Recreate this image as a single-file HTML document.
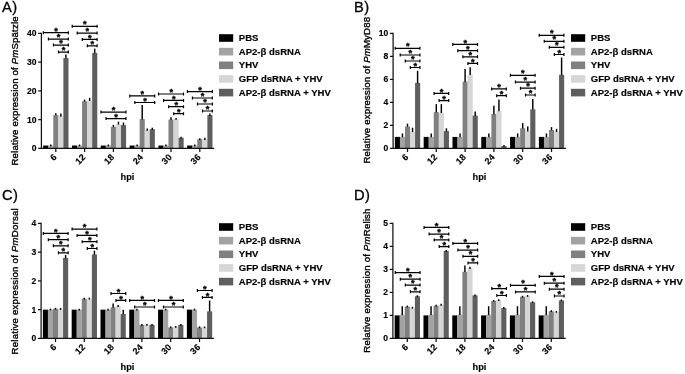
<!DOCTYPE html>
<html lang="en">
<head>
<meta charset="utf-8">
<title>Relative expression figure</title>
<style>
html,body{margin:0;padding:0;background:#fff;}
body{width:685px;height:374px;overflow:hidden;}
svg{display:block;font-family:"Liberation Sans",sans-serif;}
</style>
</head>
<body>
<svg width="685" height="374" viewBox="0 0 685 374">
<rect width="685" height="374" fill="#fff"/>
<g transform="translate(0,0)">
<text x="2.1" y="11.8" font-size="14.7" fill="#000" stroke="#000" stroke-width="0.3">A<tspan dx="0.4">)</tspan></text>
<text transform="translate(18.35,90.9) rotate(-90)" text-anchor="middle" font-size="9.65" letter-spacing="0.17" fill="#000" stroke="#000" stroke-width="0.35">Relative expression of <tspan font-style="italic">Pm</tspan>Spätzle</text>
<text x="127.5" y="179.8" text-anchor="middle" font-size="9.2" font-weight="bold" fill="#000" stroke="#000" stroke-width="0.15">hpi</text>
<g transform="translate(0,0)">
<rect x="43.17" y="145.53" width="5.1" height="2.88" fill="#000000"/>
<rect x="48.22" y="145.53" width="5.1" height="2.88" fill="#a3a3a3"/>
<rect x="53.27" y="115.05" width="5.1" height="33.35" fill="#808080"/>
<rect x="58.32" y="116.49" width="5.1" height="31.91" fill="#d6d6d6"/>
<rect x="63.38" y="58.13" width="5.1" height="90.27" fill="#5e5e5e"/>
<line x1="50.75" y1="146.28" x2="50.75" y2="144.52" stroke="#000" stroke-width="1.45"/>
<line x1="55.8" y1="115.35" x2="55.8" y2="113.33" stroke="#000" stroke-width="1.45"/>
<line x1="60.85" y1="116.79" x2="60.85" y2="113.61" stroke="#000" stroke-width="1.45"/>
<line x1="65.9" y1="58.43" x2="65.9" y2="54.39" stroke="#000" stroke-width="1.45"/>
<rect x="71.97" y="145.53" width="5.1" height="2.88" fill="#000000"/>
<rect x="77.02" y="145.53" width="5.1" height="2.88" fill="#a3a3a3"/>
<rect x="82.07" y="101.25" width="5.1" height="47.15" fill="#808080"/>
<rect x="87.12" y="100.68" width="5.1" height="47.72" fill="#d6d6d6"/>
<rect x="92.17" y="52.95" width="5.1" height="95.45" fill="#5e5e5e"/>
<line x1="79.55" y1="146.28" x2="79.55" y2="144.52" stroke="#000" stroke-width="1.45"/>
<line x1="84.6" y1="101.55" x2="84.6" y2="99.53" stroke="#000" stroke-width="1.45"/>
<line x1="89.65" y1="100.98" x2="89.65" y2="97.8" stroke="#000" stroke-width="1.45"/>
<line x1="94.7" y1="53.25" x2="94.7" y2="48.64" stroke="#000" stroke-width="1.45"/>
<rect x="100.78" y="145.53" width="5.1" height="2.88" fill="#000000"/>
<rect x="105.83" y="145.53" width="5.1" height="2.88" fill="#a3a3a3"/>
<rect x="110.88" y="126.84" width="5.1" height="21.56" fill="#808080"/>
<rect x="115.93" y="124.25" width="5.1" height="24.15" fill="#d6d6d6"/>
<rect x="120.98" y="125.11" width="5.1" height="23.29" fill="#5e5e5e"/>
<line x1="108.35" y1="146.28" x2="108.35" y2="144.52" stroke="#000" stroke-width="1.45"/>
<line x1="113.4" y1="127.14" x2="113.4" y2="124.83" stroke="#000" stroke-width="1.45"/>
<line x1="118.45" y1="124.55" x2="118.45" y2="121.66" stroke="#000" stroke-width="1.45"/>
<line x1="123.5" y1="125.41" x2="123.5" y2="122.53" stroke="#000" stroke-width="1.45"/>
<rect x="129.57" y="145.53" width="5.1" height="2.88" fill="#000000"/>
<rect x="134.62" y="145.53" width="5.1" height="2.88" fill="#a3a3a3"/>
<rect x="139.67" y="119.08" width="5.1" height="29.33" fill="#808080"/>
<rect x="144.72" y="130" width="5.1" height="18.4" fill="#d6d6d6"/>
<rect x="149.77" y="129.14" width="5.1" height="19.26" fill="#5e5e5e"/>
<line x1="137.15" y1="146.28" x2="137.15" y2="144.52" stroke="#000" stroke-width="1.45"/>
<line x1="142.2" y1="119.38" x2="142.2" y2="104.99" stroke="#000" stroke-width="1.45"/>
<line x1="147.25" y1="130.75" x2="147.25" y2="128.56" stroke="#000" stroke-width="1.45"/>
<line x1="152.3" y1="129.89" x2="152.3" y2="127.7" stroke="#000" stroke-width="1.45"/>
<rect x="158.38" y="145.53" width="5.1" height="2.88" fill="#000000"/>
<rect x="163.43" y="145.53" width="5.1" height="2.88" fill="#a3a3a3"/>
<rect x="168.47" y="119.65" width="5.1" height="28.75" fill="#808080"/>
<rect x="173.53" y="119.08" width="5.1" height="29.33" fill="#d6d6d6"/>
<rect x="178.57" y="137.76" width="5.1" height="10.64" fill="#5e5e5e"/>
<line x1="165.95" y1="146.28" x2="165.95" y2="144.52" stroke="#000" stroke-width="1.45"/>
<line x1="171" y1="119.95" x2="171" y2="117.35" stroke="#000" stroke-width="1.45"/>
<line x1="176.05" y1="119.83" x2="176.05" y2="117.92" stroke="#000" stroke-width="1.45"/>
<line x1="181.1" y1="138.51" x2="181.1" y2="136.76" stroke="#000" stroke-width="1.45"/>
<rect x="187.18" y="145.53" width="5.1" height="2.88" fill="#000000"/>
<rect x="192.23" y="145.53" width="5.1" height="2.88" fill="#a3a3a3"/>
<rect x="197.28" y="139.2" width="5.1" height="9.2" fill="#808080"/>
<rect x="202.33" y="139.2" width="5.1" height="9.2" fill="#d6d6d6"/>
<rect x="207.38" y="115.05" width="5.1" height="33.35" fill="#5e5e5e"/>
<line x1="194.75" y1="146.28" x2="194.75" y2="144.52" stroke="#000" stroke-width="1.45"/>
<line x1="199.8" y1="139.95" x2="199.8" y2="138.2" stroke="#000" stroke-width="1.45"/>
<line x1="204.85" y1="139.95" x2="204.85" y2="137.76" stroke="#000" stroke-width="1.45"/>
<line x1="209.9" y1="115.8" x2="209.9" y2="113.61" stroke="#000" stroke-width="1.45"/>
<path d="M43.38 31.2 V34.2 M43.38 32.7 H68.33 M68.33 31.2 V34.2" stroke="#000" stroke-width="1.2" fill="none"/>
<text x="56" y="33.8" text-anchor="middle" font-size="9.2" font-weight="bold" fill="#000" stroke="#000" stroke-width="0.35" stroke-linejoin="round">*</text>
<path d="M48.42 37.6 V40.6 M48.42 39.1 H68.33 M68.33 37.6 V40.6" stroke="#000" stroke-width="1.2" fill="none"/>
<text x="58.52" y="40.2" text-anchor="middle" font-size="9.2" font-weight="bold" fill="#000" stroke="#000" stroke-width="0.35" stroke-linejoin="round">*</text>
<path d="M53.48 43.6 V46.6 M53.48 45.1 H68.33 M68.33 43.6 V46.6" stroke="#000" stroke-width="1.2" fill="none"/>
<text x="61.05" y="46.2" text-anchor="middle" font-size="9.2" font-weight="bold" fill="#000" stroke="#000" stroke-width="0.35" stroke-linejoin="round">*</text>
<path d="M58.52 50.6 V53.6 M58.52 52.1 H68.33 M68.33 50.6 V53.6" stroke="#000" stroke-width="1.2" fill="none"/>
<text x="63.57" y="53.2" text-anchor="middle" font-size="9.2" font-weight="bold" fill="#000" stroke="#000" stroke-width="0.35" stroke-linejoin="round">*</text>
<path d="M72.17 24.8 V27.8 M72.17 26.3 H97.12 M97.12 24.8 V27.8" stroke="#000" stroke-width="1.2" fill="none"/>
<text x="84.8" y="27.4" text-anchor="middle" font-size="9.2" font-weight="bold" fill="#000" stroke="#000" stroke-width="0.35" stroke-linejoin="round">*</text>
<path d="M77.22 31.6 V34.6 M77.22 33.1 H97.12 M97.12 31.6 V34.6" stroke="#000" stroke-width="1.2" fill="none"/>
<text x="87.33" y="34.2" text-anchor="middle" font-size="9.2" font-weight="bold" fill="#000" stroke="#000" stroke-width="0.35" stroke-linejoin="round">*</text>
<path d="M82.27 37.9 V40.9 M82.27 39.4 H97.12 M97.12 37.9 V40.9" stroke="#000" stroke-width="1.2" fill="none"/>
<text x="89.85" y="40.5" text-anchor="middle" font-size="9.2" font-weight="bold" fill="#000" stroke="#000" stroke-width="0.35" stroke-linejoin="round">*</text>
<path d="M87.33 44.3 V47.3 M87.33 45.8 H97.12 M97.12 44.3 V47.3" stroke="#000" stroke-width="1.2" fill="none"/>
<text x="92.38" y="46.9" text-anchor="middle" font-size="9.2" font-weight="bold" fill="#000" stroke="#000" stroke-width="0.35" stroke-linejoin="round">*</text>
<path d="M100.98 110.6 V113.6 M100.98 112.1 H125.93 M125.93 110.6 V113.6" stroke="#000" stroke-width="1.2" fill="none"/>
<text x="113.6" y="113.2" text-anchor="middle" font-size="9.2" font-weight="bold" fill="#000" stroke="#000" stroke-width="0.35" stroke-linejoin="round">*</text>
<path d="M106.03 117.1 V120.1 M106.03 118.6 H125.93 M125.93 117.1 V120.1" stroke="#000" stroke-width="1.2" fill="none"/>
<text x="116.13" y="119.7" text-anchor="middle" font-size="9.2" font-weight="bold" fill="#000" stroke="#000" stroke-width="0.35" stroke-linejoin="round">*</text>
<path d="M129.77 94.4 V97.4 M129.77 95.9 H154.72 M154.72 94.4 V97.4" stroke="#000" stroke-width="1.2" fill="none"/>
<text x="142.4" y="97" text-anchor="middle" font-size="9.2" font-weight="bold" fill="#000" stroke="#000" stroke-width="0.35" stroke-linejoin="round">*</text>
<path d="M134.82 101 V104 M134.82 102.5 H154.72 M154.72 101 V104" stroke="#000" stroke-width="1.2" fill="none"/>
<text x="144.92" y="103.6" text-anchor="middle" font-size="9.2" font-weight="bold" fill="#000" stroke="#000" stroke-width="0.35" stroke-linejoin="round">*</text>
<path d="M158.57 92.5 V95.5 M158.57 94 H183.52 M183.52 92.5 V95.5" stroke="#000" stroke-width="1.2" fill="none"/>
<text x="171.2" y="95.1" text-anchor="middle" font-size="9.2" font-weight="bold" fill="#000" stroke="#000" stroke-width="0.35" stroke-linejoin="round">*</text>
<path d="M163.62 98.9 V101.9 M163.62 100.4 H183.52 M183.52 98.9 V101.9" stroke="#000" stroke-width="1.2" fill="none"/>
<text x="173.72" y="101.5" text-anchor="middle" font-size="9.2" font-weight="bold" fill="#000" stroke="#000" stroke-width="0.35" stroke-linejoin="round">*</text>
<path d="M168.67 105.2 V108.2 M168.67 106.7 H183.52 M183.52 105.2 V108.2" stroke="#000" stroke-width="1.2" fill="none"/>
<text x="176.25" y="107.8" text-anchor="middle" font-size="9.2" font-weight="bold" fill="#000" stroke="#000" stroke-width="0.35" stroke-linejoin="round">*</text>
<path d="M173.72 112.2 V115.2 M173.72 113.7 H183.52 M183.52 112.2 V115.2" stroke="#000" stroke-width="1.2" fill="none"/>
<text x="178.78" y="114.8" text-anchor="middle" font-size="9.2" font-weight="bold" fill="#000" stroke="#000" stroke-width="0.35" stroke-linejoin="round">*</text>
<path d="M187.38 90.1 V93.1 M187.38 91.6 H212.32 M212.32 90.1 V93.1" stroke="#000" stroke-width="1.2" fill="none"/>
<text x="200" y="92.7" text-anchor="middle" font-size="9.2" font-weight="bold" fill="#000" stroke="#000" stroke-width="0.35" stroke-linejoin="round">*</text>
<path d="M192.43 96.5 V99.5 M192.43 98 H212.32 M212.32 96.5 V99.5" stroke="#000" stroke-width="1.2" fill="none"/>
<text x="202.53" y="99.1" text-anchor="middle" font-size="9.2" font-weight="bold" fill="#000" stroke="#000" stroke-width="0.35" stroke-linejoin="round">*</text>
<path d="M197.47 102.5 V105.5 M197.47 104 H212.32 M212.32 102.5 V105.5" stroke="#000" stroke-width="1.2" fill="none"/>
<text x="205.05" y="105.1" text-anchor="middle" font-size="9.2" font-weight="bold" fill="#000" stroke="#000" stroke-width="0.35" stroke-linejoin="round">*</text>
<path d="M202.53 109.5 V112.5 M202.53 111 H212.32 M212.32 109.5 V112.5" stroke="#000" stroke-width="1.2" fill="none"/>
<text x="207.58" y="112.1" text-anchor="middle" font-size="9.2" font-weight="bold" fill="#000" stroke="#000" stroke-width="0.35" stroke-linejoin="round">*</text>
<path d="M41.4 33.4 V148.4 H213.6" stroke="#111" stroke-width="1.25" fill="none" stroke-linecap="square"/>
<line x1="38.2" y1="148.4" x2="41.4" y2="148.4" stroke="#111" stroke-width="1.25"/>
<text x="36.6" y="151.4" text-anchor="end" font-size="8.55" font-weight="bold" fill="#000" stroke="#000" stroke-width="0.15">0</text>
<line x1="38.2" y1="119.65" x2="41.4" y2="119.65" stroke="#111" stroke-width="1.25"/>
<text x="36.6" y="122.65" text-anchor="end" font-size="8.55" font-weight="bold" fill="#000" stroke="#000" stroke-width="0.15">10</text>
<line x1="38.2" y1="90.9" x2="41.4" y2="90.9" stroke="#111" stroke-width="1.25"/>
<text x="36.6" y="93.9" text-anchor="end" font-size="8.55" font-weight="bold" fill="#000" stroke="#000" stroke-width="0.15">20</text>
<line x1="38.2" y1="62.15" x2="41.4" y2="62.15" stroke="#111" stroke-width="1.25"/>
<text x="36.6" y="65.15" text-anchor="end" font-size="8.55" font-weight="bold" fill="#000" stroke="#000" stroke-width="0.15">30</text>
<line x1="38.2" y1="33.4" x2="41.4" y2="33.4" stroke="#111" stroke-width="1.25"/>
<text x="36.6" y="36.4" text-anchor="end" font-size="8.55" font-weight="bold" fill="#000" stroke="#000" stroke-width="0.15">40</text>
<line x1="55.8" y1="148.4" x2="55.8" y2="152" stroke="#111" stroke-width="1.25"/>
<text transform="translate(57.2,157.85) rotate(-45)" text-anchor="end" font-size="8.95" font-weight="bold" fill="#000" stroke="#000" stroke-width="0.15">6</text>
<line x1="84.6" y1="148.4" x2="84.6" y2="152" stroke="#111" stroke-width="1.25"/>
<text transform="translate(86,157.85) rotate(-45)" text-anchor="end" font-size="8.95" font-weight="bold" fill="#000" stroke="#000" stroke-width="0.15">12</text>
<line x1="113.4" y1="148.4" x2="113.4" y2="152" stroke="#111" stroke-width="1.25"/>
<text transform="translate(114.8,157.85) rotate(-45)" text-anchor="end" font-size="8.95" font-weight="bold" fill="#000" stroke="#000" stroke-width="0.15">18</text>
<line x1="142.2" y1="148.4" x2="142.2" y2="152" stroke="#111" stroke-width="1.25"/>
<text transform="translate(143.6,157.85) rotate(-45)" text-anchor="end" font-size="8.95" font-weight="bold" fill="#000" stroke="#000" stroke-width="0.15">24</text>
<line x1="171" y1="148.4" x2="171" y2="152" stroke="#111" stroke-width="1.25"/>
<text transform="translate(172.4,157.85) rotate(-45)" text-anchor="end" font-size="8.95" font-weight="bold" fill="#000" stroke="#000" stroke-width="0.15">30</text>
<line x1="199.8" y1="148.4" x2="199.8" y2="152" stroke="#111" stroke-width="1.25"/>
<text transform="translate(201.2,157.85) rotate(-45)" text-anchor="end" font-size="8.95" font-weight="bold" fill="#000" stroke="#000" stroke-width="0.15">36</text>
</g>
<rect x="219" y="34.2" width="14.2" height="7.6" fill="#000000"/>
<text x="238.8" y="41.1" font-size="9.55" font-weight="bold" fill="#000" stroke="#000" stroke-width="0.15">PBS</text>
<rect x="219" y="47.85" width="14.2" height="7.6" fill="#a3a3a3"/>
<text x="238.8" y="54.75" font-size="9.55" font-weight="bold" fill="#000" stroke="#000" stroke-width="0.15">AP2-β dsRNA</text>
<rect x="219" y="61.5" width="14.2" height="7.6" fill="#808080"/>
<text x="238.8" y="68.4" font-size="9.55" font-weight="bold" fill="#000" stroke="#000" stroke-width="0.15">YHV</text>
<rect x="219" y="75.15" width="14.2" height="7.6" fill="#d6d6d6"/>
<text x="238.8" y="82.05" font-size="9.55" font-weight="bold" fill="#000" stroke="#000" stroke-width="0.15">GFP dsRNA + YHV</text>
<rect x="219" y="88.8" width="14.2" height="7.6" fill="#5e5e5e"/>
<text x="238.8" y="95.7" font-size="9.55" font-weight="bold" fill="#000" stroke="#000" stroke-width="0.15">AP2-β dsRNA + YHV</text>
</g>
<g transform="translate(352,0)">
<text x="2.1" y="11.8" font-size="14.7" fill="#000" stroke="#000" stroke-width="0.3">B<tspan dx="0.4">)</tspan></text>
<text transform="translate(18.35,90.2) rotate(-90)" text-anchor="middle" font-size="9.65" letter-spacing="0.15" fill="#000" stroke="#000" stroke-width="0.35">Relative expression of <tspan font-style="italic">Pm</tspan>MyD88</text>
<text x="127.5" y="179.8" text-anchor="middle" font-size="9.2" font-weight="bold" fill="#000" stroke="#000" stroke-width="0.15">hpi</text>
<g transform="translate(-0.3,0)">
<rect x="43.17" y="136.9" width="5.1" height="11.5" fill="#000000"/>
<rect x="48.22" y="136.9" width="5.1" height="11.5" fill="#a3a3a3"/>
<rect x="53.27" y="126.55" width="5.1" height="21.85" fill="#808080"/>
<rect x="58.32" y="131.72" width="5.1" height="16.68" fill="#d6d6d6"/>
<rect x="63.38" y="82.85" width="5.1" height="65.55" fill="#5e5e5e"/>
<line x1="50.75" y1="137.2" x2="50.75" y2="133.45" stroke="#000" stroke-width="1.45"/>
<line x1="55.8" y1="126.85" x2="55.8" y2="123.68" stroke="#000" stroke-width="1.45"/>
<line x1="60.85" y1="132.03" x2="60.85" y2="127.7" stroke="#000" stroke-width="1.45"/>
<line x1="65.9" y1="83.15" x2="65.9" y2="70.78" stroke="#000" stroke-width="1.45"/>
<rect x="71.97" y="136.9" width="5.1" height="11.5" fill="#000000"/>
<rect x="77.02" y="136.9" width="5.1" height="11.5" fill="#a3a3a3"/>
<rect x="82.07" y="112.18" width="5.1" height="36.22" fill="#808080"/>
<rect x="87.12" y="112.75" width="5.1" height="35.65" fill="#d6d6d6"/>
<rect x="92.17" y="131.15" width="5.1" height="17.25" fill="#5e5e5e"/>
<line x1="79.55" y1="137.2" x2="79.55" y2="133.45" stroke="#000" stroke-width="1.45"/>
<line x1="84.6" y1="112.48" x2="84.6" y2="104.13" stroke="#000" stroke-width="1.45"/>
<line x1="89.65" y1="113.05" x2="89.65" y2="104.12" stroke="#000" stroke-width="1.45"/>
<line x1="94.7" y1="131.45" x2="94.7" y2="128.28" stroke="#000" stroke-width="1.45"/>
<rect x="100.78" y="136.9" width="5.1" height="11.5" fill="#000000"/>
<rect x="105.83" y="136.9" width="5.1" height="11.5" fill="#a3a3a3"/>
<rect x="110.88" y="81.7" width="5.1" height="66.7" fill="#808080"/>
<rect x="115.93" y="74.8" width="5.1" height="73.6" fill="#d6d6d6"/>
<rect x="120.98" y="115.62" width="5.1" height="32.78" fill="#5e5e5e"/>
<line x1="108.35" y1="137.2" x2="108.35" y2="133.45" stroke="#000" stroke-width="1.45"/>
<line x1="113.4" y1="82" x2="113.4" y2="69.05" stroke="#000" stroke-width="1.45"/>
<line x1="118.45" y1="75.1" x2="118.45" y2="67.33" stroke="#000" stroke-width="1.45"/>
<line x1="123.5" y1="115.92" x2="123.5" y2="111.6" stroke="#000" stroke-width="1.45"/>
<rect x="129.57" y="136.9" width="5.1" height="11.5" fill="#000000"/>
<rect x="134.62" y="136.9" width="5.1" height="11.5" fill="#a3a3a3"/>
<rect x="139.67" y="113.9" width="5.1" height="34.5" fill="#808080"/>
<rect x="144.72" y="111.03" width="5.1" height="37.38" fill="#d6d6d6"/>
<rect x="149.77" y="146.1" width="5.1" height="2.3" fill="#5e5e5e"/>
<line x1="137.15" y1="137.2" x2="137.15" y2="133.45" stroke="#000" stroke-width="1.45"/>
<line x1="142.2" y1="114.2" x2="142.2" y2="105.85" stroke="#000" stroke-width="1.45"/>
<line x1="147.25" y1="111.33" x2="147.25" y2="99.53" stroke="#000" stroke-width="1.45"/>
<line x1="152.3" y1="146.85" x2="152.3" y2="144.95" stroke="#000" stroke-width="1.45"/>
<rect x="158.38" y="136.9" width="5.1" height="11.5" fill="#000000"/>
<rect x="163.43" y="136.9" width="5.1" height="11.5" fill="#a3a3a3"/>
<rect x="168.47" y="128.28" width="5.1" height="20.12" fill="#808080"/>
<rect x="173.53" y="131.15" width="5.1" height="17.25" fill="#d6d6d6"/>
<rect x="178.57" y="109.3" width="5.1" height="39.1" fill="#5e5e5e"/>
<line x1="165.95" y1="137.2" x2="165.95" y2="133.45" stroke="#000" stroke-width="1.45"/>
<line x1="171" y1="128.58" x2="171" y2="123.1" stroke="#000" stroke-width="1.45"/>
<line x1="176.05" y1="131.45" x2="176.05" y2="126.55" stroke="#000" stroke-width="1.45"/>
<line x1="181.1" y1="109.6" x2="181.1" y2="98.95" stroke="#000" stroke-width="1.45"/>
<rect x="187.18" y="136.9" width="5.1" height="11.5" fill="#000000"/>
<rect x="192.23" y="136.9" width="5.1" height="11.5" fill="#a3a3a3"/>
<rect x="197.28" y="130" width="5.1" height="18.4" fill="#808080"/>
<rect x="202.33" y="131.72" width="5.1" height="16.68" fill="#d6d6d6"/>
<rect x="207.38" y="74.8" width="5.1" height="73.6" fill="#5e5e5e"/>
<line x1="194.75" y1="137.2" x2="194.75" y2="133.45" stroke="#000" stroke-width="1.45"/>
<line x1="199.8" y1="130.3" x2="199.8" y2="127.12" stroke="#000" stroke-width="1.45"/>
<line x1="204.85" y1="132.03" x2="204.85" y2="128.85" stroke="#000" stroke-width="1.45"/>
<line x1="209.9" y1="75.1" x2="209.9" y2="57.55" stroke="#000" stroke-width="1.45"/>
<path d="M43.47 46.8 V49.8 M43.47 48.3 H68.22 M68.22 46.8 V49.8" stroke="#000" stroke-width="1.2" fill="none"/>
<text x="56" y="49.4" text-anchor="middle" font-size="9.2" font-weight="bold" fill="#000" stroke="#000" stroke-width="0.35" stroke-linejoin="round">*</text>
<path d="M48.52 53.5 V56.5 M48.52 55 H68.22 M68.22 53.5 V56.5" stroke="#000" stroke-width="1.2" fill="none"/>
<text x="58.52" y="56.1" text-anchor="middle" font-size="9.2" font-weight="bold" fill="#000" stroke="#000" stroke-width="0.35" stroke-linejoin="round">*</text>
<path d="M53.57 59.5 V62.5 M53.57 61 H68.22 M68.22 59.5 V62.5" stroke="#000" stroke-width="1.2" fill="none"/>
<text x="61.05" y="62.1" text-anchor="middle" font-size="9.2" font-weight="bold" fill="#000" stroke="#000" stroke-width="0.35" stroke-linejoin="round">*</text>
<path d="M58.62 66 V69 M58.62 67.5 H68.22 M68.22 66 V69" stroke="#000" stroke-width="1.2" fill="none"/>
<text x="63.57" y="68.6" text-anchor="middle" font-size="9.2" font-weight="bold" fill="#000" stroke="#000" stroke-width="0.35" stroke-linejoin="round">*</text>
<path d="M82.37 91.9 V94.9 M82.37 93.4 H97.02 M97.02 91.9 V94.9" stroke="#000" stroke-width="1.2" fill="none"/>
<text x="89.85" y="94.5" text-anchor="middle" font-size="9.2" font-weight="bold" fill="#000" stroke="#000" stroke-width="0.35" stroke-linejoin="round">*</text>
<path d="M87.42 99.1 V102.1 M87.42 100.6 H97.02 M97.02 99.1 V102.1" stroke="#000" stroke-width="1.2" fill="none"/>
<text x="92.38" y="101.7" text-anchor="middle" font-size="9.2" font-weight="bold" fill="#000" stroke="#000" stroke-width="0.35" stroke-linejoin="round">*</text>
<path d="M101.08 42.9 V45.9 M101.08 44.4 H125.83 M125.83 42.9 V45.9" stroke="#000" stroke-width="1.2" fill="none"/>
<text x="113.6" y="45.5" text-anchor="middle" font-size="9.2" font-weight="bold" fill="#000" stroke="#000" stroke-width="0.35" stroke-linejoin="round">*</text>
<path d="M106.12 49.2 V52.2 M106.12 50.7 H125.83 M125.83 49.2 V52.2" stroke="#000" stroke-width="1.2" fill="none"/>
<text x="116.12" y="51.8" text-anchor="middle" font-size="9.2" font-weight="bold" fill="#000" stroke="#000" stroke-width="0.35" stroke-linejoin="round">*</text>
<path d="M111.17 55.3 V58.3 M111.17 56.8 H125.83 M125.83 55.3 V58.3" stroke="#000" stroke-width="1.2" fill="none"/>
<text x="118.65" y="57.9" text-anchor="middle" font-size="9.2" font-weight="bold" fill="#000" stroke="#000" stroke-width="0.35" stroke-linejoin="round">*</text>
<path d="M116.23 61.9 V64.9 M116.23 63.4 H125.83 M125.83 61.9 V64.9" stroke="#000" stroke-width="1.2" fill="none"/>
<text x="121.18" y="64.5" text-anchor="middle" font-size="9.2" font-weight="bold" fill="#000" stroke="#000" stroke-width="0.35" stroke-linejoin="round">*</text>
<path d="M139.97 87.4 V90.4 M139.97 88.9 H154.62 M154.62 87.4 V90.4" stroke="#000" stroke-width="1.2" fill="none"/>
<text x="147.45" y="90" text-anchor="middle" font-size="9.2" font-weight="bold" fill="#000" stroke="#000" stroke-width="0.35" stroke-linejoin="round">*</text>
<path d="M145.03 94.2 V97.2 M145.03 95.7 H154.62 M154.62 94.2 V97.2" stroke="#000" stroke-width="1.2" fill="none"/>
<text x="149.97" y="96.8" text-anchor="middle" font-size="9.2" font-weight="bold" fill="#000" stroke="#000" stroke-width="0.35" stroke-linejoin="round">*</text>
<path d="M158.68 73.8 V76.8 M158.68 75.3 H183.42 M183.42 73.8 V76.8" stroke="#000" stroke-width="1.2" fill="none"/>
<text x="171.2" y="76.4" text-anchor="middle" font-size="9.2" font-weight="bold" fill="#000" stroke="#000" stroke-width="0.35" stroke-linejoin="round">*</text>
<path d="M163.73 80.6 V83.6 M163.73 82.1 H183.42 M183.42 80.6 V83.6" stroke="#000" stroke-width="1.2" fill="none"/>
<text x="173.72" y="83.2" text-anchor="middle" font-size="9.2" font-weight="bold" fill="#000" stroke="#000" stroke-width="0.35" stroke-linejoin="round">*</text>
<path d="M168.78 86.7 V89.7 M168.78 88.2 H183.42 M183.42 86.7 V89.7" stroke="#000" stroke-width="1.2" fill="none"/>
<text x="176.25" y="89.3" text-anchor="middle" font-size="9.2" font-weight="bold" fill="#000" stroke="#000" stroke-width="0.35" stroke-linejoin="round">*</text>
<path d="M173.83 93.5 V96.5 M173.83 95 H183.42 M183.42 93.5 V96.5" stroke="#000" stroke-width="1.2" fill="none"/>
<text x="178.78" y="96.1" text-anchor="middle" font-size="9.2" font-weight="bold" fill="#000" stroke="#000" stroke-width="0.35" stroke-linejoin="round">*</text>
<path d="M187.48 33.8 V36.8 M187.48 35.3 H212.22 M212.22 33.8 V36.8" stroke="#000" stroke-width="1.2" fill="none"/>
<text x="200" y="36.4" text-anchor="middle" font-size="9.2" font-weight="bold" fill="#000" stroke="#000" stroke-width="0.35" stroke-linejoin="round">*</text>
<path d="M192.53 39.8 V42.8 M192.53 41.3 H212.22 M212.22 39.8 V42.8" stroke="#000" stroke-width="1.2" fill="none"/>
<text x="202.53" y="42.4" text-anchor="middle" font-size="9.2" font-weight="bold" fill="#000" stroke="#000" stroke-width="0.35" stroke-linejoin="round">*</text>
<path d="M197.58 45.8 V48.8 M197.58 47.3 H212.22 M212.22 45.8 V48.8" stroke="#000" stroke-width="1.2" fill="none"/>
<text x="205.05" y="48.4" text-anchor="middle" font-size="9.2" font-weight="bold" fill="#000" stroke="#000" stroke-width="0.35" stroke-linejoin="round">*</text>
<path d="M202.63 53 V56 M202.63 54.5 H212.22 M212.22 53 V56" stroke="#000" stroke-width="1.2" fill="none"/>
<text x="207.58" y="55.6" text-anchor="middle" font-size="9.2" font-weight="bold" fill="#000" stroke="#000" stroke-width="0.35" stroke-linejoin="round">*</text>
<path d="M41.4 33.4 V148.4 H213.6" stroke="#111" stroke-width="1.25" fill="none" stroke-linecap="square"/>
<line x1="38.2" y1="148.4" x2="41.4" y2="148.4" stroke="#111" stroke-width="1.25"/>
<text x="36.6" y="151.4" text-anchor="end" font-size="8.55" font-weight="bold" fill="#000" stroke="#000" stroke-width="0.15">0</text>
<line x1="38.2" y1="125.4" x2="41.4" y2="125.4" stroke="#111" stroke-width="1.25"/>
<text x="36.6" y="128.4" text-anchor="end" font-size="8.55" font-weight="bold" fill="#000" stroke="#000" stroke-width="0.15">2</text>
<line x1="38.2" y1="102.4" x2="41.4" y2="102.4" stroke="#111" stroke-width="1.25"/>
<text x="36.6" y="105.4" text-anchor="end" font-size="8.55" font-weight="bold" fill="#000" stroke="#000" stroke-width="0.15">4</text>
<line x1="38.2" y1="79.4" x2="41.4" y2="79.4" stroke="#111" stroke-width="1.25"/>
<text x="36.6" y="82.4" text-anchor="end" font-size="8.55" font-weight="bold" fill="#000" stroke="#000" stroke-width="0.15">6</text>
<line x1="38.2" y1="56.4" x2="41.4" y2="56.4" stroke="#111" stroke-width="1.25"/>
<text x="36.6" y="59.4" text-anchor="end" font-size="8.55" font-weight="bold" fill="#000" stroke="#000" stroke-width="0.15">8</text>
<line x1="38.2" y1="33.4" x2="41.4" y2="33.4" stroke="#111" stroke-width="1.25"/>
<text x="36.6" y="36.4" text-anchor="end" font-size="8.55" font-weight="bold" fill="#000" stroke="#000" stroke-width="0.15">10</text>
<line x1="55.8" y1="148.4" x2="55.8" y2="152" stroke="#111" stroke-width="1.25"/>
<text transform="translate(57.2,157.85) rotate(-45)" text-anchor="end" font-size="8.95" font-weight="bold" fill="#000" stroke="#000" stroke-width="0.15">6</text>
<line x1="84.6" y1="148.4" x2="84.6" y2="152" stroke="#111" stroke-width="1.25"/>
<text transform="translate(86,157.85) rotate(-45)" text-anchor="end" font-size="8.95" font-weight="bold" fill="#000" stroke="#000" stroke-width="0.15">12</text>
<line x1="113.4" y1="148.4" x2="113.4" y2="152" stroke="#111" stroke-width="1.25"/>
<text transform="translate(114.8,157.85) rotate(-45)" text-anchor="end" font-size="8.95" font-weight="bold" fill="#000" stroke="#000" stroke-width="0.15">18</text>
<line x1="142.2" y1="148.4" x2="142.2" y2="152" stroke="#111" stroke-width="1.25"/>
<text transform="translate(143.6,157.85) rotate(-45)" text-anchor="end" font-size="8.95" font-weight="bold" fill="#000" stroke="#000" stroke-width="0.15">24</text>
<line x1="171" y1="148.4" x2="171" y2="152" stroke="#111" stroke-width="1.25"/>
<text transform="translate(172.4,157.85) rotate(-45)" text-anchor="end" font-size="8.95" font-weight="bold" fill="#000" stroke="#000" stroke-width="0.15">30</text>
<line x1="199.8" y1="148.4" x2="199.8" y2="152" stroke="#111" stroke-width="1.25"/>
<text transform="translate(201.2,157.85) rotate(-45)" text-anchor="end" font-size="8.95" font-weight="bold" fill="#000" stroke="#000" stroke-width="0.15">36</text>
</g>
<rect x="219" y="34.2" width="14.2" height="7.6" fill="#000000"/>
<text x="238.8" y="41.1" font-size="9.55" font-weight="bold" fill="#000" stroke="#000" stroke-width="0.15">PBS</text>
<rect x="219" y="47.85" width="14.2" height="7.6" fill="#a3a3a3"/>
<text x="238.8" y="54.75" font-size="9.55" font-weight="bold" fill="#000" stroke="#000" stroke-width="0.15">AP2-β dsRNA</text>
<rect x="219" y="61.5" width="14.2" height="7.6" fill="#808080"/>
<text x="238.8" y="68.4" font-size="9.55" font-weight="bold" fill="#000" stroke="#000" stroke-width="0.15">YHV</text>
<rect x="219" y="75.15" width="14.2" height="7.6" fill="#d6d6d6"/>
<text x="238.8" y="82.05" font-size="9.55" font-weight="bold" fill="#000" stroke="#000" stroke-width="0.15">GFP dsRNA + YHV</text>
<rect x="219" y="88.8" width="14.2" height="7.6" fill="#5e5e5e"/>
<text x="238.8" y="95.7" font-size="9.55" font-weight="bold" fill="#000" stroke="#000" stroke-width="0.15">AP2-β dsRNA + YHV</text>
</g>
<g transform="translate(0,190)">
<text x="2.1" y="10.1" font-size="14.7" fill="#000" stroke="#000" stroke-width="0.3">C<tspan dx="0.4">)</tspan></text>
<text transform="translate(18.35,91.25) rotate(-90)" text-anchor="middle" font-size="9.65" letter-spacing="0.215" fill="#000" stroke="#000" stroke-width="0.35">Relative expression of <tspan font-style="italic">Pm</tspan>Dorsal</text>
<text x="127.5" y="179.8" text-anchor="middle" font-size="9.2" font-weight="bold" fill="#000" stroke="#000" stroke-width="0.15">hpi</text>
<g transform="translate(-0.3,0)">
<rect x="43.17" y="119.65" width="5.1" height="28.75" fill="#000000"/>
<rect x="48.22" y="119.65" width="5.1" height="28.75" fill="#a3a3a3"/>
<rect x="53.27" y="118.79" width="5.1" height="29.61" fill="#808080"/>
<rect x="58.32" y="119.08" width="5.1" height="29.33" fill="#d6d6d6"/>
<rect x="63.38" y="67.9" width="5.1" height="80.5" fill="#5e5e5e"/>
<line x1="50.75" y1="120.4" x2="50.75" y2="118.65" stroke="#000" stroke-width="1.45"/>
<line x1="55.8" y1="119.54" x2="55.8" y2="117.79" stroke="#000" stroke-width="1.45"/>
<line x1="60.85" y1="119.83" x2="60.85" y2="117.92" stroke="#000" stroke-width="1.45"/>
<line x1="65.9" y1="68.2" x2="65.9" y2="65.03" stroke="#000" stroke-width="1.45"/>
<rect x="71.97" y="119.65" width="5.1" height="28.75" fill="#000000"/>
<rect x="77.02" y="119.65" width="5.1" height="28.75" fill="#a3a3a3"/>
<rect x="82.07" y="108.73" width="5.1" height="39.67" fill="#808080"/>
<rect x="87.12" y="108.73" width="5.1" height="39.67" fill="#d6d6d6"/>
<rect x="92.17" y="64.45" width="5.1" height="83.95" fill="#5e5e5e"/>
<line x1="79.55" y1="120.4" x2="79.55" y2="118.65" stroke="#000" stroke-width="1.45"/>
<line x1="84.6" y1="109.48" x2="84.6" y2="107.73" stroke="#000" stroke-width="1.45"/>
<line x1="89.65" y1="109.48" x2="89.65" y2="107.73" stroke="#000" stroke-width="1.45"/>
<line x1="94.7" y1="64.75" x2="94.7" y2="60.71" stroke="#000" stroke-width="1.45"/>
<rect x="100.78" y="119.65" width="5.1" height="28.75" fill="#000000"/>
<rect x="105.83" y="119.65" width="5.1" height="28.75" fill="#a3a3a3"/>
<rect x="110.88" y="117.35" width="5.1" height="31.05" fill="#808080"/>
<rect x="115.93" y="116.2" width="5.1" height="32.2" fill="#d6d6d6"/>
<rect x="120.98" y="123.96" width="5.1" height="24.44" fill="#5e5e5e"/>
<line x1="108.35" y1="120.4" x2="108.35" y2="118.65" stroke="#000" stroke-width="1.45"/>
<line x1="113.4" y1="117.65" x2="113.4" y2="113.61" stroke="#000" stroke-width="1.45"/>
<line x1="118.45" y1="116.95" x2="118.45" y2="115.05" stroke="#000" stroke-width="1.45"/>
<line x1="123.5" y1="124.26" x2="123.5" y2="119.65" stroke="#000" stroke-width="1.45"/>
<rect x="129.57" y="119.65" width="5.1" height="28.75" fill="#000000"/>
<rect x="134.62" y="119.65" width="5.1" height="28.75" fill="#a3a3a3"/>
<rect x="139.67" y="134.89" width="5.1" height="13.51" fill="#808080"/>
<rect x="144.72" y="134.89" width="5.1" height="13.51" fill="#d6d6d6"/>
<rect x="149.77" y="134.89" width="5.1" height="13.51" fill="#5e5e5e"/>
<line x1="137.15" y1="120.4" x2="137.15" y2="118.65" stroke="#000" stroke-width="1.45"/>
<line x1="142.2" y1="135.64" x2="142.2" y2="133.89" stroke="#000" stroke-width="1.45"/>
<line x1="147.25" y1="135.64" x2="147.25" y2="133.89" stroke="#000" stroke-width="1.45"/>
<line x1="152.3" y1="135.64" x2="152.3" y2="133.89" stroke="#000" stroke-width="1.45"/>
<rect x="158.38" y="119.65" width="5.1" height="28.75" fill="#000000"/>
<rect x="163.43" y="119.65" width="5.1" height="28.75" fill="#a3a3a3"/>
<rect x="168.47" y="137.47" width="5.1" height="10.93" fill="#808080"/>
<rect x="173.53" y="136.9" width="5.1" height="11.5" fill="#d6d6d6"/>
<rect x="178.57" y="134.89" width="5.1" height="13.51" fill="#5e5e5e"/>
<line x1="165.95" y1="120.4" x2="165.95" y2="118.65" stroke="#000" stroke-width="1.45"/>
<line x1="171" y1="138.22" x2="171" y2="136.47" stroke="#000" stroke-width="1.45"/>
<line x1="176.05" y1="137.65" x2="176.05" y2="135.9" stroke="#000" stroke-width="1.45"/>
<line x1="181.1" y1="135.64" x2="181.1" y2="133.89" stroke="#000" stroke-width="1.45"/>
<rect x="187.18" y="119.65" width="5.1" height="28.75" fill="#000000"/>
<rect x="192.23" y="119.65" width="5.1" height="28.75" fill="#a3a3a3"/>
<rect x="197.28" y="137.47" width="5.1" height="10.93" fill="#808080"/>
<rect x="202.33" y="137.47" width="5.1" height="10.93" fill="#d6d6d6"/>
<rect x="207.38" y="121.38" width="5.1" height="27.03" fill="#5e5e5e"/>
<line x1="194.75" y1="120.4" x2="194.75" y2="118.65" stroke="#000" stroke-width="1.45"/>
<line x1="199.8" y1="138.22" x2="199.8" y2="136.47" stroke="#000" stroke-width="1.45"/>
<line x1="204.85" y1="138.22" x2="204.85" y2="136.47" stroke="#000" stroke-width="1.45"/>
<line x1="209.9" y1="121.67" x2="209.9" y2="110.45" stroke="#000" stroke-width="1.45"/>
<path d="M43.57 41.9 V44.9 M43.57 43.4 H68.42 M68.42 41.9 V44.9" stroke="#000" stroke-width="1.2" fill="none"/>
<text x="56.15" y="44.5" text-anchor="middle" font-size="9.2" font-weight="bold" fill="#000" stroke="#000" stroke-width="0.35" stroke-linejoin="round">*</text>
<path d="M48.62 48.2 V51.2 M48.62 49.7 H68.42 M68.42 48.2 V51.2" stroke="#000" stroke-width="1.2" fill="none"/>
<text x="58.67" y="50.8" text-anchor="middle" font-size="9.2" font-weight="bold" fill="#000" stroke="#000" stroke-width="0.35" stroke-linejoin="round">*</text>
<path d="M53.67 54.3 V57.3 M53.67 55.8 H68.42 M68.42 54.3 V57.3" stroke="#000" stroke-width="1.2" fill="none"/>
<text x="61.2" y="56.9" text-anchor="middle" font-size="9.2" font-weight="bold" fill="#000" stroke="#000" stroke-width="0.35" stroke-linejoin="round">*</text>
<path d="M58.72 61.3 V64.3 M58.72 62.8 H68.42 M68.42 61.3 V64.3" stroke="#000" stroke-width="1.2" fill="none"/>
<text x="63.72" y="63.9" text-anchor="middle" font-size="9.2" font-weight="bold" fill="#000" stroke="#000" stroke-width="0.35" stroke-linejoin="round">*</text>
<path d="M72.38 37.6 V40.6 M72.38 39.1 H97.22 M97.22 37.6 V40.6" stroke="#000" stroke-width="1.2" fill="none"/>
<text x="84.95" y="40.2" text-anchor="middle" font-size="9.2" font-weight="bold" fill="#000" stroke="#000" stroke-width="0.35" stroke-linejoin="round">*</text>
<path d="M77.42 43.9 V46.9 M77.42 45.4 H97.22 M97.22 43.9 V46.9" stroke="#000" stroke-width="1.2" fill="none"/>
<text x="87.47" y="46.5" text-anchor="middle" font-size="9.2" font-weight="bold" fill="#000" stroke="#000" stroke-width="0.35" stroke-linejoin="round">*</text>
<path d="M82.47 50.2 V53.2 M82.47 51.7 H97.22 M97.22 50.2 V53.2" stroke="#000" stroke-width="1.2" fill="none"/>
<text x="90" y="52.8" text-anchor="middle" font-size="9.2" font-weight="bold" fill="#000" stroke="#000" stroke-width="0.35" stroke-linejoin="round">*</text>
<path d="M87.53 57 V60 M87.53 58.5 H97.22 M97.22 57 V60" stroke="#000" stroke-width="1.2" fill="none"/>
<text x="92.53" y="59.6" text-anchor="middle" font-size="9.2" font-weight="bold" fill="#000" stroke="#000" stroke-width="0.35" stroke-linejoin="round">*</text>
<path d="M111.28 102 V105 M111.28 103.5 H126.03 M126.03 102 V105" stroke="#000" stroke-width="1.2" fill="none"/>
<text x="118.8" y="104.6" text-anchor="middle" font-size="9.2" font-weight="bold" fill="#000" stroke="#000" stroke-width="0.35" stroke-linejoin="round">*</text>
<path d="M116.33 108.9 V111.9 M116.33 110.4 H126.03 M126.03 108.9 V111.9" stroke="#000" stroke-width="1.2" fill="none"/>
<text x="121.33" y="111.5" text-anchor="middle" font-size="9.2" font-weight="bold" fill="#000" stroke="#000" stroke-width="0.35" stroke-linejoin="round">*</text>
<path d="M129.97 108.9 V111.9 M129.97 110.4 H154.82 M154.82 108.9 V111.9" stroke="#000" stroke-width="1.2" fill="none"/>
<text x="142.55" y="111.5" text-anchor="middle" font-size="9.2" font-weight="bold" fill="#000" stroke="#000" stroke-width="0.35" stroke-linejoin="round">*</text>
<path d="M135.03 115.5 V118.5 M135.03 117 H154.82 M154.82 115.5 V118.5" stroke="#000" stroke-width="1.2" fill="none"/>
<text x="145.08" y="118.1" text-anchor="middle" font-size="9.2" font-weight="bold" fill="#000" stroke="#000" stroke-width="0.35" stroke-linejoin="round">*</text>
<path d="M158.78 108.9 V111.9 M158.78 110.4 H183.62 M183.62 108.9 V111.9" stroke="#000" stroke-width="1.2" fill="none"/>
<text x="171.35" y="111.5" text-anchor="middle" font-size="9.2" font-weight="bold" fill="#000" stroke="#000" stroke-width="0.35" stroke-linejoin="round">*</text>
<path d="M163.83 115.5 V118.5 M163.83 117 H183.62 M183.62 115.5 V118.5" stroke="#000" stroke-width="1.2" fill="none"/>
<text x="173.88" y="118.1" text-anchor="middle" font-size="9.2" font-weight="bold" fill="#000" stroke="#000" stroke-width="0.35" stroke-linejoin="round">*</text>
<path d="M197.68 99 V102 M197.68 100.5 H212.43 M212.43 99 V102" stroke="#000" stroke-width="1.2" fill="none"/>
<text x="205.2" y="101.6" text-anchor="middle" font-size="9.2" font-weight="bold" fill="#000" stroke="#000" stroke-width="0.35" stroke-linejoin="round">*</text>
<path d="M202.73 105.9 V108.9 M202.73 107.4 H212.43 M212.43 105.9 V108.9" stroke="#000" stroke-width="1.2" fill="none"/>
<text x="207.73" y="108.5" text-anchor="middle" font-size="9.2" font-weight="bold" fill="#000" stroke="#000" stroke-width="0.35" stroke-linejoin="round">*</text>
<path d="M41.4 33.4 V148.4 H213.6" stroke="#111" stroke-width="1.25" fill="none" stroke-linecap="square"/>
<line x1="38.2" y1="148.4" x2="41.4" y2="148.4" stroke="#111" stroke-width="1.25"/>
<text x="36.6" y="151.4" text-anchor="end" font-size="8.55" font-weight="bold" fill="#000" stroke="#000" stroke-width="0.15">0</text>
<line x1="38.2" y1="119.65" x2="41.4" y2="119.65" stroke="#111" stroke-width="1.25"/>
<text x="36.6" y="122.65" text-anchor="end" font-size="8.55" font-weight="bold" fill="#000" stroke="#000" stroke-width="0.15">1</text>
<line x1="38.2" y1="90.9" x2="41.4" y2="90.9" stroke="#111" stroke-width="1.25"/>
<text x="36.6" y="93.9" text-anchor="end" font-size="8.55" font-weight="bold" fill="#000" stroke="#000" stroke-width="0.15">2</text>
<line x1="38.2" y1="62.15" x2="41.4" y2="62.15" stroke="#111" stroke-width="1.25"/>
<text x="36.6" y="65.15" text-anchor="end" font-size="8.55" font-weight="bold" fill="#000" stroke="#000" stroke-width="0.15">3</text>
<line x1="38.2" y1="33.4" x2="41.4" y2="33.4" stroke="#111" stroke-width="1.25"/>
<text x="36.6" y="36.4" text-anchor="end" font-size="8.55" font-weight="bold" fill="#000" stroke="#000" stroke-width="0.15">4</text>
<line x1="55.8" y1="148.4" x2="55.8" y2="152" stroke="#111" stroke-width="1.25"/>
<text transform="translate(57.2,157.85) rotate(-45)" text-anchor="end" font-size="8.95" font-weight="bold" fill="#000" stroke="#000" stroke-width="0.15">6</text>
<line x1="84.6" y1="148.4" x2="84.6" y2="152" stroke="#111" stroke-width="1.25"/>
<text transform="translate(86,157.85) rotate(-45)" text-anchor="end" font-size="8.95" font-weight="bold" fill="#000" stroke="#000" stroke-width="0.15">12</text>
<line x1="113.4" y1="148.4" x2="113.4" y2="152" stroke="#111" stroke-width="1.25"/>
<text transform="translate(114.8,157.85) rotate(-45)" text-anchor="end" font-size="8.95" font-weight="bold" fill="#000" stroke="#000" stroke-width="0.15">18</text>
<line x1="142.2" y1="148.4" x2="142.2" y2="152" stroke="#111" stroke-width="1.25"/>
<text transform="translate(143.6,157.85) rotate(-45)" text-anchor="end" font-size="8.95" font-weight="bold" fill="#000" stroke="#000" stroke-width="0.15">24</text>
<line x1="171" y1="148.4" x2="171" y2="152" stroke="#111" stroke-width="1.25"/>
<text transform="translate(172.4,157.85) rotate(-45)" text-anchor="end" font-size="8.95" font-weight="bold" fill="#000" stroke="#000" stroke-width="0.15">30</text>
<line x1="199.8" y1="148.4" x2="199.8" y2="152" stroke="#111" stroke-width="1.25"/>
<text transform="translate(201.2,157.85) rotate(-45)" text-anchor="end" font-size="8.95" font-weight="bold" fill="#000" stroke="#000" stroke-width="0.15">36</text>
</g>
<rect x="219" y="33.2" width="14.2" height="7.6" fill="#000000"/>
<text x="238.8" y="40.1" font-size="9.55" font-weight="bold" fill="#000" stroke="#000" stroke-width="0.15">PBS</text>
<rect x="219" y="46.85" width="14.2" height="7.6" fill="#a3a3a3"/>
<text x="238.8" y="53.75" font-size="9.55" font-weight="bold" fill="#000" stroke="#000" stroke-width="0.15">AP2-β dsRNA</text>
<rect x="219" y="60.5" width="14.2" height="7.6" fill="#808080"/>
<text x="238.8" y="67.4" font-size="9.55" font-weight="bold" fill="#000" stroke="#000" stroke-width="0.15">YHV</text>
<rect x="219" y="74.15" width="14.2" height="7.6" fill="#d6d6d6"/>
<text x="238.8" y="81.05" font-size="9.55" font-weight="bold" fill="#000" stroke="#000" stroke-width="0.15">GFP dsRNA + YHV</text>
<rect x="219" y="87.8" width="14.2" height="7.6" fill="#5e5e5e"/>
<text x="238.8" y="94.7" font-size="9.55" font-weight="bold" fill="#000" stroke="#000" stroke-width="0.15">AP2-β dsRNA + YHV</text>
</g>
<g transform="translate(352,190)">
<text x="2.1" y="10.1" font-size="14.7" fill="#000" stroke="#000" stroke-width="0.3">D<tspan dx="0.4">)</tspan></text>
<text transform="translate(17.8,90.5) rotate(-90)" text-anchor="middle" font-size="9.65" letter-spacing="0.185" fill="#000" stroke="#000" stroke-width="0.35">Relative expression of <tspan font-style="italic">Pm</tspan>Relish</text>
<text x="127.5" y="179.8" text-anchor="middle" font-size="9.2" font-weight="bold" fill="#000" stroke="#000" stroke-width="0.15">hpi</text>
<g transform="translate(-0.5,0)">
<rect x="43.17" y="125.4" width="5.1" height="23" fill="#000000"/>
<rect x="48.22" y="124.71" width="5.1" height="23.69" fill="#a3a3a3"/>
<rect x="53.27" y="116.66" width="5.1" height="31.74" fill="#808080"/>
<rect x="58.32" y="117.81" width="5.1" height="30.59" fill="#d6d6d6"/>
<rect x="63.38" y="106.31" width="5.1" height="42.09" fill="#5e5e5e"/>
<line x1="50.75" y1="125.01" x2="50.75" y2="116.2" stroke="#000" stroke-width="1.45"/>
<line x1="55.8" y1="117.41" x2="55.8" y2="115.66" stroke="#000" stroke-width="1.45"/>
<line x1="60.85" y1="118.56" x2="60.85" y2="116.81" stroke="#000" stroke-width="1.45"/>
<line x1="65.9" y1="107.06" x2="65.9" y2="105.31" stroke="#000" stroke-width="1.45"/>
<rect x="71.97" y="125.4" width="5.1" height="23" fill="#000000"/>
<rect x="77.02" y="124.71" width="5.1" height="23.69" fill="#a3a3a3"/>
<rect x="82.07" y="115.74" width="5.1" height="32.66" fill="#808080"/>
<rect x="87.12" y="115.05" width="5.1" height="33.35" fill="#d6d6d6"/>
<rect x="92.17" y="61" width="5.1" height="87.4" fill="#5e5e5e"/>
<line x1="79.55" y1="125.01" x2="79.55" y2="116.2" stroke="#000" stroke-width="1.45"/>
<line x1="84.6" y1="116.49" x2="84.6" y2="114.74" stroke="#000" stroke-width="1.45"/>
<line x1="89.65" y1="115.8" x2="89.65" y2="113.67" stroke="#000" stroke-width="1.45"/>
<line x1="94.7" y1="61.75" x2="94.7" y2="60" stroke="#000" stroke-width="1.45"/>
<rect x="100.78" y="125.4" width="5.1" height="23" fill="#000000"/>
<rect x="105.83" y="124.71" width="5.1" height="23.69" fill="#a3a3a3"/>
<rect x="110.88" y="81.7" width="5.1" height="66.7" fill="#808080"/>
<rect x="115.93" y="78.25" width="5.1" height="70.15" fill="#d6d6d6"/>
<rect x="120.98" y="105.39" width="5.1" height="43.01" fill="#5e5e5e"/>
<line x1="108.35" y1="125.01" x2="108.35" y2="116.2" stroke="#000" stroke-width="1.45"/>
<line x1="113.4" y1="82" x2="113.4" y2="75.49" stroke="#000" stroke-width="1.45"/>
<line x1="118.45" y1="79" x2="118.45" y2="76.87" stroke="#000" stroke-width="1.45"/>
<line x1="123.5" y1="106.14" x2="123.5" y2="104.39" stroke="#000" stroke-width="1.45"/>
<rect x="129.57" y="125.4" width="5.1" height="23" fill="#000000"/>
<rect x="134.62" y="124.71" width="5.1" height="23.69" fill="#a3a3a3"/>
<rect x="139.67" y="110.91" width="5.1" height="37.49" fill="#808080"/>
<rect x="144.72" y="110.22" width="5.1" height="38.18" fill="#d6d6d6"/>
<rect x="149.77" y="118.04" width="5.1" height="30.36" fill="#5e5e5e"/>
<line x1="137.15" y1="125.01" x2="137.15" y2="116.2" stroke="#000" stroke-width="1.45"/>
<line x1="142.2" y1="111.66" x2="142.2" y2="109.91" stroke="#000" stroke-width="1.45"/>
<line x1="147.25" y1="110.97" x2="147.25" y2="109.22" stroke="#000" stroke-width="1.45"/>
<line x1="152.3" y1="118.79" x2="152.3" y2="117.04" stroke="#000" stroke-width="1.45"/>
<rect x="158.38" y="125.4" width="5.1" height="23" fill="#000000"/>
<rect x="163.43" y="124.71" width="5.1" height="23.69" fill="#a3a3a3"/>
<rect x="168.47" y="106.77" width="5.1" height="41.63" fill="#808080"/>
<rect x="173.53" y="106.08" width="5.1" height="42.32" fill="#d6d6d6"/>
<rect x="178.57" y="112.29" width="5.1" height="36.11" fill="#5e5e5e"/>
<line x1="165.95" y1="125.01" x2="165.95" y2="116.2" stroke="#000" stroke-width="1.45"/>
<line x1="171" y1="107.52" x2="171" y2="105.77" stroke="#000" stroke-width="1.45"/>
<line x1="176.05" y1="106.83" x2="176.05" y2="105.08" stroke="#000" stroke-width="1.45"/>
<line x1="181.1" y1="113.04" x2="181.1" y2="111.29" stroke="#000" stroke-width="1.45"/>
<rect x="187.18" y="125.4" width="5.1" height="23" fill="#000000"/>
<rect x="192.23" y="124.71" width="5.1" height="23.69" fill="#a3a3a3"/>
<rect x="197.28" y="121.26" width="5.1" height="27.14" fill="#808080"/>
<rect x="202.33" y="121.95" width="5.1" height="26.45" fill="#d6d6d6"/>
<rect x="207.38" y="110.45" width="5.1" height="37.95" fill="#5e5e5e"/>
<line x1="194.75" y1="125.01" x2="194.75" y2="116.2" stroke="#000" stroke-width="1.45"/>
<line x1="199.8" y1="122.01" x2="199.8" y2="120.26" stroke="#000" stroke-width="1.45"/>
<line x1="204.85" y1="122.7" x2="204.85" y2="120.95" stroke="#000" stroke-width="1.45"/>
<line x1="209.9" y1="111.2" x2="209.9" y2="109.45" stroke="#000" stroke-width="1.45"/>
<path d="M43.77 81.1 V84.1 M43.77 82.6 H68.53 M68.53 81.1 V84.1" stroke="#000" stroke-width="1.2" fill="none"/>
<text x="56.3" y="83.7" text-anchor="middle" font-size="9.2" font-weight="bold" fill="#000" stroke="#000" stroke-width="0.35" stroke-linejoin="round">*</text>
<path d="M48.82 87.7 V90.7 M48.82 89.2 H68.53 M68.53 87.7 V90.7" stroke="#000" stroke-width="1.2" fill="none"/>
<text x="58.82" y="90.3" text-anchor="middle" font-size="9.2" font-weight="bold" fill="#000" stroke="#000" stroke-width="0.35" stroke-linejoin="round">*</text>
<path d="M53.88 93.6 V96.6 M53.88 95.1 H68.53 M68.53 93.6 V96.6" stroke="#000" stroke-width="1.2" fill="none"/>
<text x="61.35" y="96.2" text-anchor="middle" font-size="9.2" font-weight="bold" fill="#000" stroke="#000" stroke-width="0.35" stroke-linejoin="round">*</text>
<path d="M58.92 100.3 V103.3 M58.92 101.8 H68.53 M68.53 100.3 V103.3" stroke="#000" stroke-width="1.2" fill="none"/>
<text x="63.88" y="102.9" text-anchor="middle" font-size="9.2" font-weight="bold" fill="#000" stroke="#000" stroke-width="0.35" stroke-linejoin="round">*</text>
<path d="M72.57 35.9 V38.9 M72.57 37.4 H97.33 M97.33 35.9 V38.9" stroke="#000" stroke-width="1.2" fill="none"/>
<text x="85.1" y="38.5" text-anchor="middle" font-size="9.2" font-weight="bold" fill="#000" stroke="#000" stroke-width="0.35" stroke-linejoin="round">*</text>
<path d="M77.62 42.6 V45.6 M77.62 44.1 H97.33 M97.33 42.6 V45.6" stroke="#000" stroke-width="1.2" fill="none"/>
<text x="87.62" y="45.2" text-anchor="middle" font-size="9.2" font-weight="bold" fill="#000" stroke="#000" stroke-width="0.35" stroke-linejoin="round">*</text>
<path d="M82.67 48.4 V51.4 M82.67 49.9 H97.33 M97.33 48.4 V51.4" stroke="#000" stroke-width="1.2" fill="none"/>
<text x="90.15" y="51" text-anchor="middle" font-size="9.2" font-weight="bold" fill="#000" stroke="#000" stroke-width="0.35" stroke-linejoin="round">*</text>
<path d="M87.72 55.1 V58.1 M87.72 56.6 H97.33 M97.33 55.1 V58.1" stroke="#000" stroke-width="1.2" fill="none"/>
<text x="92.68" y="57.7" text-anchor="middle" font-size="9.2" font-weight="bold" fill="#000" stroke="#000" stroke-width="0.35" stroke-linejoin="round">*</text>
<path d="M101.38 51.9 V54.9 M101.38 53.4 H126.13 M126.13 51.9 V54.9" stroke="#000" stroke-width="1.2" fill="none"/>
<text x="113.9" y="54.5" text-anchor="middle" font-size="9.2" font-weight="bold" fill="#000" stroke="#000" stroke-width="0.35" stroke-linejoin="round">*</text>
<path d="M106.42 58.6 V61.6 M106.42 60.1 H126.13 M126.13 58.6 V61.6" stroke="#000" stroke-width="1.2" fill="none"/>
<text x="116.43" y="61.2" text-anchor="middle" font-size="9.2" font-weight="bold" fill="#000" stroke="#000" stroke-width="0.35" stroke-linejoin="round">*</text>
<path d="M111.47 64.8 V67.8 M111.47 66.3 H126.13 M126.13 64.8 V67.8" stroke="#000" stroke-width="1.2" fill="none"/>
<text x="118.95" y="67.4" text-anchor="middle" font-size="9.2" font-weight="bold" fill="#000" stroke="#000" stroke-width="0.35" stroke-linejoin="round">*</text>
<path d="M116.53 71.4 V74.4 M116.53 72.9 H126.13 M126.13 71.4 V74.4" stroke="#000" stroke-width="1.2" fill="none"/>
<text x="121.48" y="74" text-anchor="middle" font-size="9.2" font-weight="bold" fill="#000" stroke="#000" stroke-width="0.35" stroke-linejoin="round">*</text>
<path d="M140.27 97.1 V100.1 M140.27 98.6 H154.92 M154.92 97.1 V100.1" stroke="#000" stroke-width="1.2" fill="none"/>
<text x="147.75" y="99.7" text-anchor="middle" font-size="9.2" font-weight="bold" fill="#000" stroke="#000" stroke-width="0.35" stroke-linejoin="round">*</text>
<path d="M145.32 104 V107 M145.32 105.5 H154.92 M154.92 104 V107" stroke="#000" stroke-width="1.2" fill="none"/>
<text x="150.28" y="106.6" text-anchor="middle" font-size="9.2" font-weight="bold" fill="#000" stroke="#000" stroke-width="0.35" stroke-linejoin="round">*</text>
<path d="M158.97 93.8 V96.8 M158.97 95.3 H183.72 M183.72 93.8 V96.8" stroke="#000" stroke-width="1.2" fill="none"/>
<text x="171.5" y="96.4" text-anchor="middle" font-size="9.2" font-weight="bold" fill="#000" stroke="#000" stroke-width="0.35" stroke-linejoin="round">*</text>
<path d="M164.03 100.4 V103.4 M164.03 101.9 H183.72 M183.72 100.4 V103.4" stroke="#000" stroke-width="1.2" fill="none"/>
<text x="174.03" y="103" text-anchor="middle" font-size="9.2" font-weight="bold" fill="#000" stroke="#000" stroke-width="0.35" stroke-linejoin="round">*</text>
<path d="M187.78 84.9 V87.9 M187.78 86.4 H212.53 M212.53 84.9 V87.9" stroke="#000" stroke-width="1.2" fill="none"/>
<text x="200.3" y="87.5" text-anchor="middle" font-size="9.2" font-weight="bold" fill="#000" stroke="#000" stroke-width="0.35" stroke-linejoin="round">*</text>
<path d="M192.83 91.7 V94.7 M192.83 93.2 H212.53 M212.53 91.7 V94.7" stroke="#000" stroke-width="1.2" fill="none"/>
<text x="202.83" y="94.3" text-anchor="middle" font-size="9.2" font-weight="bold" fill="#000" stroke="#000" stroke-width="0.35" stroke-linejoin="round">*</text>
<path d="M197.88 97.7 V100.7 M197.88 99.2 H212.53 M212.53 97.7 V100.7" stroke="#000" stroke-width="1.2" fill="none"/>
<text x="205.35" y="100.3" text-anchor="middle" font-size="9.2" font-weight="bold" fill="#000" stroke="#000" stroke-width="0.35" stroke-linejoin="round">*</text>
<path d="M202.93 104.5 V107.5 M202.93 106 H212.53 M212.53 104.5 V107.5" stroke="#000" stroke-width="1.2" fill="none"/>
<text x="207.88" y="107.1" text-anchor="middle" font-size="9.2" font-weight="bold" fill="#000" stroke="#000" stroke-width="0.35" stroke-linejoin="round">*</text>
<path d="M41.4 33.4 V148.4 H213.6" stroke="#111" stroke-width="1.25" fill="none" stroke-linecap="square"/>
<line x1="38.2" y1="148.4" x2="41.4" y2="148.4" stroke="#111" stroke-width="1.25"/>
<text x="36.6" y="151.4" text-anchor="end" font-size="8.55" font-weight="bold" fill="#000" stroke="#000" stroke-width="0.15">0</text>
<line x1="38.2" y1="125.4" x2="41.4" y2="125.4" stroke="#111" stroke-width="1.25"/>
<text x="36.6" y="128.4" text-anchor="end" font-size="8.55" font-weight="bold" fill="#000" stroke="#000" stroke-width="0.15">1</text>
<line x1="38.2" y1="102.4" x2="41.4" y2="102.4" stroke="#111" stroke-width="1.25"/>
<text x="36.6" y="105.4" text-anchor="end" font-size="8.55" font-weight="bold" fill="#000" stroke="#000" stroke-width="0.15">2</text>
<line x1="38.2" y1="79.4" x2="41.4" y2="79.4" stroke="#111" stroke-width="1.25"/>
<text x="36.6" y="82.4" text-anchor="end" font-size="8.55" font-weight="bold" fill="#000" stroke="#000" stroke-width="0.15">3</text>
<line x1="38.2" y1="56.4" x2="41.4" y2="56.4" stroke="#111" stroke-width="1.25"/>
<text x="36.6" y="59.4" text-anchor="end" font-size="8.55" font-weight="bold" fill="#000" stroke="#000" stroke-width="0.15">4</text>
<line x1="38.2" y1="33.4" x2="41.4" y2="33.4" stroke="#111" stroke-width="1.25"/>
<text x="36.6" y="36.4" text-anchor="end" font-size="8.55" font-weight="bold" fill="#000" stroke="#000" stroke-width="0.15">5</text>
<line x1="55.8" y1="148.4" x2="55.8" y2="152" stroke="#111" stroke-width="1.25"/>
<text transform="translate(57.2,157.85) rotate(-45)" text-anchor="end" font-size="8.95" font-weight="bold" fill="#000" stroke="#000" stroke-width="0.15">6</text>
<line x1="84.6" y1="148.4" x2="84.6" y2="152" stroke="#111" stroke-width="1.25"/>
<text transform="translate(86,157.85) rotate(-45)" text-anchor="end" font-size="8.95" font-weight="bold" fill="#000" stroke="#000" stroke-width="0.15">12</text>
<line x1="113.4" y1="148.4" x2="113.4" y2="152" stroke="#111" stroke-width="1.25"/>
<text transform="translate(114.8,157.85) rotate(-45)" text-anchor="end" font-size="8.95" font-weight="bold" fill="#000" stroke="#000" stroke-width="0.15">18</text>
<line x1="142.2" y1="148.4" x2="142.2" y2="152" stroke="#111" stroke-width="1.25"/>
<text transform="translate(143.6,157.85) rotate(-45)" text-anchor="end" font-size="8.95" font-weight="bold" fill="#000" stroke="#000" stroke-width="0.15">24</text>
<line x1="171" y1="148.4" x2="171" y2="152" stroke="#111" stroke-width="1.25"/>
<text transform="translate(172.4,157.85) rotate(-45)" text-anchor="end" font-size="8.95" font-weight="bold" fill="#000" stroke="#000" stroke-width="0.15">30</text>
<line x1="199.8" y1="148.4" x2="199.8" y2="152" stroke="#111" stroke-width="1.25"/>
<text transform="translate(201.2,157.85) rotate(-45)" text-anchor="end" font-size="8.95" font-weight="bold" fill="#000" stroke="#000" stroke-width="0.15">36</text>
</g>
<rect x="219" y="33.2" width="14.2" height="7.6" fill="#000000"/>
<text x="238.8" y="40.1" font-size="9.55" font-weight="bold" fill="#000" stroke="#000" stroke-width="0.15">PBS</text>
<rect x="219" y="46.85" width="14.2" height="7.6" fill="#a3a3a3"/>
<text x="238.8" y="53.75" font-size="9.55" font-weight="bold" fill="#000" stroke="#000" stroke-width="0.15">AP2-β dsRNA</text>
<rect x="219" y="60.5" width="14.2" height="7.6" fill="#808080"/>
<text x="238.8" y="67.4" font-size="9.55" font-weight="bold" fill="#000" stroke="#000" stroke-width="0.15">YHV</text>
<rect x="219" y="74.15" width="14.2" height="7.6" fill="#d6d6d6"/>
<text x="238.8" y="81.05" font-size="9.55" font-weight="bold" fill="#000" stroke="#000" stroke-width="0.15">GFP dsRNA + YHV</text>
<rect x="219" y="87.8" width="14.2" height="7.6" fill="#5e5e5e"/>
<text x="238.8" y="94.7" font-size="9.55" font-weight="bold" fill="#000" stroke="#000" stroke-width="0.15">AP2-β dsRNA + YHV</text>
</g>
</svg>
</body>
</html>
